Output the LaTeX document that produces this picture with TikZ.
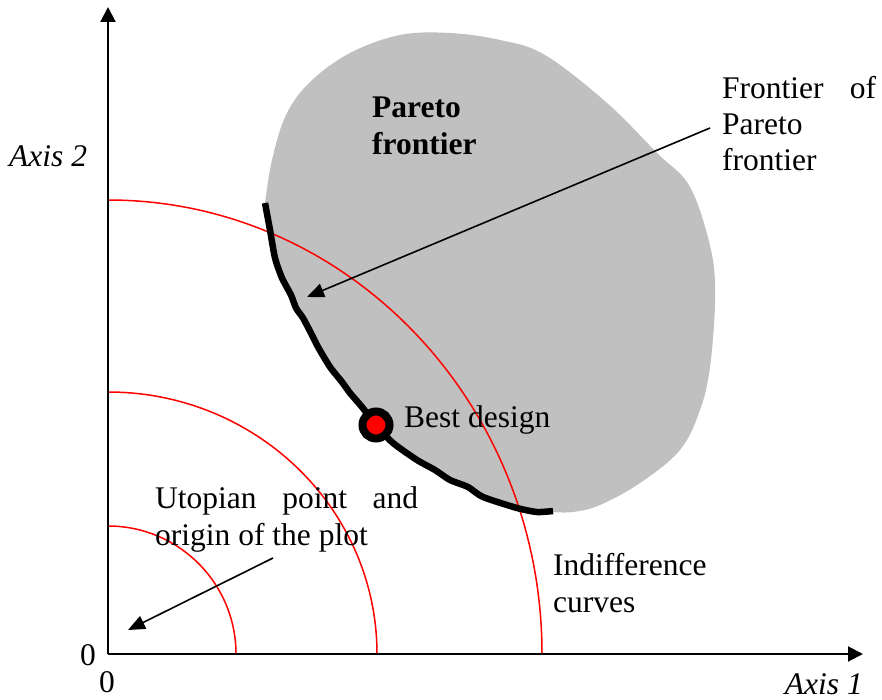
\documentclass[tikz,border=0pt]{standalone}
\usepackage{fontspec}
\setmainfont{Liberation Serif}
\usetikzlibrary{arrows.meta}
\definecolor{blobgray}{RGB}{192,192,192}
\tikzset{
  lbl/.style={inner sep=0pt, anchor=base west, font=\fontsize{31.5}{37}\selectfont},
  axisline/.style={line width=2pt, -{Triangle[length=15pt,width=15pt]}},
  pointer/.style={line width=1.6pt, -{Triangle[length=17pt,width=14pt]}},
  indiff/.style={red, line width=1.5pt},
  frontierline/.style={line width=6.5pt, line join=round},
}
\begin{document}
\begin{tikzpicture}[x=1pt,y=-1pt]
\useasboundingbox (0,0) rectangle (882,700);
% Pareto region
\fill[blobgray] plot[smooth, tension=0.5] coordinates {(265,203) (270,230) (277,263) (283,280) (293,297) (303,317) (313,337) (330,367) (350,393) (367,413) (376,425) (393,443) (417,460) (450,480) (483,497) (517,508) (537,512) (553,512)}
  -- plot[smooth, tension=0.6] coordinates {(553,512) (573,512) (600,505) (640,483) (680,450) (700,410) (710,367) (715,300) (711,250) (690,187) (657,153) (607,103) (545,55) (500,40) (450,33) (400,35) (350,53) (310,82) (286,115) (272,160) (265,203)} -- cycle;
% indifference curves
\coordinate (O) at (108,654);
\draw[indiff] (236,654) arc[start angle=0, end angle=-90, x radius=128, y radius=128];
\draw[indiff] (377,654) arc[start angle=0, end angle=-90, x radius=269, y radius=262];
\draw[indiff] (542,654) arc[start angle=0, end angle=-90, x radius=434, y radius=454];
% axes
\coordinate (ytip) at (108,7);
\coordinate (xtip) at (863,654);
\draw[axisline] (O) -- (ytip);
\draw[axisline] (O) -- (xtip);
% frontier curve
\draw[frontierline] plot[smooth, tension=0.4] coordinates {(265,203) (270,230) (275,258) (282,278) (291,295) (296,308) (303,318) (313,337) (318,347) (330,367) (342,382) (350,393) (362,407) (376,425) (393,443) (417,460) (435,470) (450,480) (468,487) (483,497) (517,508) (537,512) (553,511)};
% best design
\node[circle, fill=red, draw=black, line width=8pt, minimum size=27pt, inner sep=0pt] (best) at (376,425) {};
% labels
\node[lbl, font=\fontsize{31.5}{37}\selectfont\bfseries] (par1) at (372,118) {Pareto};
\node[lbl, font=\fontsize{31.5}{37}\selectfont\bfseries] (par2) at (372,155) {frontier};
\node[lbl] (fr1) at (722,99) {\hbox to 154pt{Frontier\hfill of}};
\node[lbl] (fr2) at (722,135) {Pareto};
\node[lbl] (fr3) at (722,171) {frontier};
\node[lbl] (bd) at (404,427) {Best design};
\node[lbl] (ut1) at (155,508) {\hbox to 263pt{Utopian\hfill point\hfill and}};
\node[lbl] (ut2) at (155,545) {origin of the plot};
\node[lbl] (in1) at (553,575) {Indifference};
\node[lbl] (in2) at (553,612) {curves};
\node[lbl, font=\fontsize{31.5}{37}\selectfont\itshape] (ax2) at (9,167) {Axis 2};
\node[lbl, font=\fontsize{31.5}{37}\selectfont\itshape, anchor=base east] (ax1) at (863,694) {Axis 1};
\node[lbl] (z1) at (80,665) {0};
\node[lbl] (z2) at (99,692) {0};
% pointers
\coordinate (fstart) at (710,128);
\coordinate (fend) at (307,297);
\coordinate (ustart) at (273,558);
\coordinate (uend) at (128,630);
\draw[pointer] (fstart) -- (fend);
\draw[pointer] (ustart) -- (uend);
\end{tikzpicture}
\end{document}
